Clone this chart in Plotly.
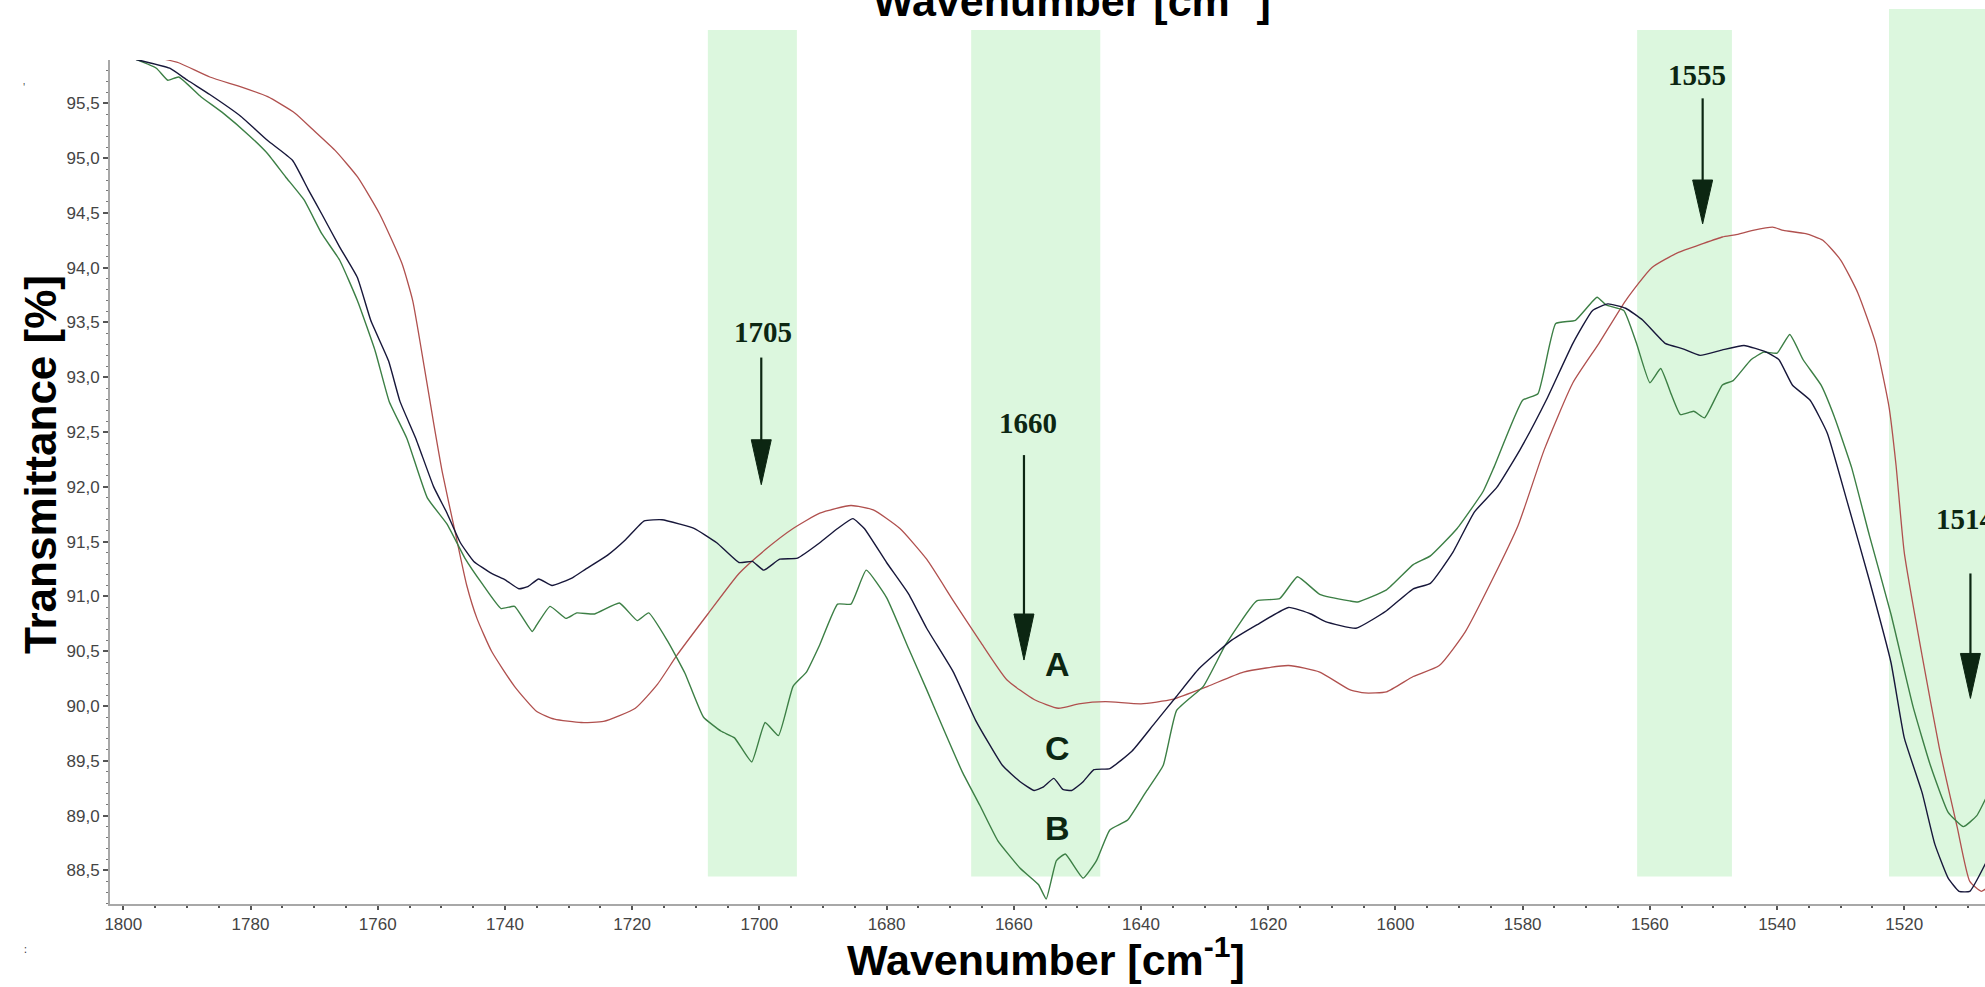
import plotly.graph_objects as go

# FTIR transmittance spectra, amide region (wavenumber in cm-1, transmittance in %)
wn_a = [1793.4, 1791.3, 1786.4, 1781.5, 1777.3, 1773.0, 1770.2, 1766.7, 1763.2, 1759.7,
        1756.2, 1754.5, 1752.7, 1751.2, 1749.8, 1747.8, 1746.0, 1744.4, 1742.1, 1738.5,
        1735.0, 1732.2, 1728.0, 1724.5, 1719.5, 1716.0, 1713.0, 1708.1, 1703.2, 1699.0,
        1694.7, 1690.5, 1685.6, 1682.1, 1677.9, 1673.7, 1669.5, 1665.3, 1661.1, 1656.8,
        1653.0, 1649.8, 1645.6, 1640.0, 1635.1, 1629.5, 1623.9, 1616.8, 1611.9, 1607.2,
        1604.8, 1601.4, 1597.2, 1593.1, 1589.0, 1584.8, 1580.7, 1576.6, 1572.1, 1568.0,
        1563.8, 1559.7, 1555.5, 1552.1, 1548.6, 1546.6, 1543.8, 1540.7, 1539.0, 1535.5,
        1532.8, 1530.0, 1527.3, 1524.5, 1522.4, 1521.3, 1520.0, 1517.2, 1514.5, 1511.7,
        1509.7, 1507.9, 1507.0]
t_a = [95.90, 95.87, 95.74, 95.65, 95.56, 95.41, 95.26, 95.07, 94.83, 94.49,
       94.04, 93.70, 93.10, 92.58, 92.12, 91.58, 91.10, 90.80, 90.50, 90.18,
       89.95, 89.88, 89.85, 89.86, 89.98, 90.20, 90.46, 90.84, 91.21, 91.43,
       91.62, 91.76, 91.83, 91.79, 91.62, 91.34, 90.96, 90.59, 90.24, 90.06,
       89.98, 90.02, 90.04, 90.02, 90.06, 90.18, 90.31, 90.37, 90.31, 90.15,
       90.12, 90.13, 90.27, 90.37, 90.68, 91.15, 91.65, 92.34, 92.95, 93.31,
       93.70, 94.00, 94.14, 94.21, 94.28, 94.30, 94.34, 94.37, 94.34, 94.31,
       94.25, 94.07, 93.77, 93.31, 92.73, 92.20, 91.40, 90.46, 89.62, 88.90,
       88.40, 88.31, 88.34]

wn_b = [1798.0, 1794.8, 1793.0, 1791.3, 1787.8, 1784.3, 1780.1, 1777.3, 1774.5, 1771.6,
        1768.8, 1766.0, 1763.2, 1760.4, 1758.2, 1755.4, 1752.2, 1749.1, 1746.3, 1743.5,
        1740.6, 1738.5, 1735.7, 1735.0, 1732.9, 1730.4, 1728.7, 1725.9, 1722.0, 1719.2,
        1717.4, 1714.4, 1711.7, 1708.8, 1706.0, 1703.9, 1701.2, 1699.1, 1697.0, 1694.7,
        1692.6, 1690.5, 1687.7, 1685.6, 1683.2, 1680.0, 1676.5, 1673.7, 1670.9, 1668.1,
        1665.3, 1662.5, 1659.0, 1656.1, 1654.9, 1653.3, 1651.9, 1649.1, 1647.0, 1644.9,
        1642.1, 1639.3, 1636.5, 1634.4, 1630.2, 1626.7, 1621.8, 1618.2, 1615.4, 1611.9,
        1607.2, 1605.9, 1601.4, 1597.2, 1594.5, 1590.3, 1586.2, 1584.5, 1580.0, 1577.6,
        1574.8, 1571.7, 1568.3, 1566.9, 1564.1, 1562.1, 1560.0, 1558.3, 1556.6, 1555.2,
        1553.1, 1551.4, 1548.6, 1546.9, 1544.1, 1542.1, 1540.0, 1538.0, 1535.9, 1533.1,
        1531.0, 1528.3, 1525.5, 1522.1, 1518.6, 1515.9, 1513.1, 1510.7, 1508.6, 1507.0]
t_b = [95.90, 95.82, 95.71, 95.74, 95.56, 95.41, 95.20, 95.04, 94.83, 94.62,
       94.31, 94.07, 93.70, 93.24, 92.78, 92.44, 91.90, 91.66, 91.35, 91.11,
       90.89, 90.91, 90.68, 90.74, 90.91, 90.80, 90.85, 90.84, 90.94, 90.78,
       90.85, 90.59, 90.30, 89.90, 89.77, 89.71, 89.49, 89.85, 89.73, 90.18,
       90.31, 90.56, 90.93, 90.93, 91.24, 90.99, 90.52, 90.15, 89.77, 89.40,
       89.09, 88.77, 88.52, 88.37, 88.24, 88.59, 88.65, 88.43, 88.59, 88.87,
       88.96, 89.21, 89.46, 89.96, 90.18, 90.56, 90.96, 90.98, 91.18, 91.02,
       90.96, 90.95, 91.06, 91.29, 91.37, 91.62, 91.96, 92.18, 92.79, 92.85,
       93.49, 93.52, 93.73, 93.66, 93.61, 93.31, 92.95, 93.08, 92.84, 92.66,
       92.69, 92.63, 92.93, 92.97, 93.16, 93.23, 93.22, 93.39, 93.16, 92.93,
       92.64, 92.18, 91.56, 90.84, 89.99, 89.46, 89.03, 88.90, 89.00, 89.18]

wn_c = [1798.0, 1792.7, 1789.9, 1786.4, 1781.5, 1777.3, 1773.4, 1770.9, 1768.8, 1766.0,
        1763.2, 1761.1, 1758.3, 1756.5, 1754.0, 1751.2, 1749.1, 1747.0, 1744.9, 1742.1,
        1739.9, 1737.8, 1736.4, 1734.7, 1732.6, 1729.4, 1727.3, 1723.8, 1721.0, 1718.1,
        1715.3, 1712.5, 1710.2, 1706.7, 1703.2, 1701.1, 1699.3, 1696.8, 1694.0, 1690.5,
        1687.7, 1685.3, 1683.5, 1680.0, 1676.5, 1673.7, 1669.5, 1666.0, 1661.8, 1659.0,
        1656.8, 1655.4, 1653.7, 1652.3, 1650.9, 1649.1, 1647.4, 1644.9, 1641.4, 1637.9,
        1634.4, 1630.9, 1626.0, 1621.8, 1616.8, 1613.3, 1611.0, 1606.2, 1601.4, 1597.2,
        1594.5, 1591.0, 1587.6, 1584.0, 1580.4, 1576.3, 1572.1, 1569.0, 1566.6, 1563.8,
        1561.1, 1557.6, 1554.8, 1552.1, 1548.6, 1545.2, 1541.7, 1539.7, 1537.6, 1534.8,
        1532.1, 1529.0, 1525.5, 1522.1, 1520.0, 1517.2, 1515.2, 1513.1, 1511.4, 1509.7,
        1507.0]
t_c = [95.90, 95.82, 95.71, 95.58, 95.38, 95.16, 94.98, 94.71, 94.49, 94.19,
       93.91, 93.52, 93.15, 92.78, 92.44, 92.00, 91.76, 91.49, 91.32, 91.21,
       91.15, 91.07, 91.09, 91.16, 91.10, 91.17, 91.25, 91.38, 91.52, 91.69,
       91.70, 91.66, 91.62, 91.49, 91.31, 91.32, 91.24, 91.34, 91.35, 91.49,
       91.62, 91.71, 91.62, 91.31, 91.02, 90.71, 90.31, 89.87, 89.46, 89.31,
       89.23, 89.26, 89.34, 89.24, 89.23, 89.31, 89.42, 89.43, 89.59, 89.84,
       90.09, 90.34, 90.59, 90.74, 90.90, 90.84, 90.77, 90.71, 90.87, 91.07,
       91.12, 91.40, 91.77, 92.00, 92.34, 92.79, 93.31, 93.61, 93.67, 93.63,
       93.52, 93.31, 93.26, 93.20, 93.25, 93.29, 93.23, 93.16, 92.93, 92.79,
       92.49, 91.87, 91.15, 90.40, 89.71, 89.21, 88.74, 88.43, 88.31, 88.31,
       88.59]

# Axis ticks
x_tickvals = [1800, 1780, 1760, 1740, 1720, 1700, 1680, 1660, 1640, 1620, 1600, 1580, 1560, 1540, 1520]
x_ticktext = [str(v) for v in x_tickvals]
y_tickvals = [88.5, 89.0, 89.5, 90.0, 90.5, 91.0, 91.5, 92.0, 92.5, 93.0, 93.5, 94.0, 94.5, 95.0, 95.5]
y_ticktext = ["88,5", "89,0", "89,5", "90,0", "90,5", "91,0", "91,5", "92,0", "92,5",
              "93,0", "93,5", "94,0", "94,5", "95,0", "95,5"]

# Highlighted bands (wavenumber spans)
band_lo = [1708.1, 1666.7, 1562.0, 1522.4]
band_hi = [1694.1, 1646.4, 1547.1, 1500.0]

# Marked peaks
peak_text = ["1705", "1660", "1555", "1514"]
peak_x = [1699.7, 1658.4, 1551.7, 1509.6]

RED = "#b0504e"
GREEN = "#3c7f45"
DARK = "#17173a"
INK = "#0c2612"

fig = go.Figure()
fig.add_trace(go.Scatter(x=wn_a, y=t_a, mode="lines", name="A",
                         line=dict(color=RED, width=1.3, shape="spline", smoothing=0.5)))
fig.add_trace(go.Scatter(x=wn_b, y=t_b, mode="lines", name="B",
                         line=dict(color=GREEN, width=1.4, shape="spline", smoothing=0.4)))
fig.add_trace(go.Scatter(x=wn_c, y=t_c, mode="lines", name="C",
                         line=dict(color=DARK, width=1.4, shape="spline", smoothing=0.4)))

shapes = []
band_top = [1.0355, 1.0355, 1.0355, 1.0603]
for lo, hi, top in zip(band_lo, band_hi, band_top):
    shapes.append(dict(type="rect", xref="x", yref="paper", x0=lo, x1=hi,
                       y0=0.0327, y1=top, fillcolor="#dcf7de", line=dict(width=0),
                       layer="below"))

# arrow geometry: shaft top, head start, tip (transmittance units)
arrow_geom = [(93.18, 92.43, 92.02), (92.29, 90.84, 90.42),
              (95.545, 94.80, 94.40), (91.21, 90.48, 90.07)]
half_w = 1.57
for xp, (top, hs, tip) in zip(peak_x, arrow_geom):
    shapes.append(dict(type="line", xref="x", yref="y", x0=xp, x1=xp, y0=top, y1=hs - 0.05,
                       line=dict(color=INK, width=2.2)))
    shapes.append(dict(type="path", xref="x", yref="y",
                       path=f"M {xp - half_w},{hs} L {xp + half_w},{hs} L {xp},{tip} Z",
                       fillcolor=INK, line=dict(color=INK, width=1)))

annotations = []
label_pos = [(1699.5, 93.41), (1657.7, 92.58), (1552.6, 95.76), (1510.4, 91.71)]
for txt, (lx, ly) in zip(peak_text, label_pos):
    annotations.append(dict(x=lx, y=ly, xref="x", yref="y", text=txt, showarrow=False,
                            xanchor="center", yanchor="middle",
                            font=dict(family="Liberation Serif, Times New Roman", size=29,
                                      color=INK, weight="bold")))

for txt, ly in zip(["A", "C", "B"], [90.38, 89.62, 88.89]):
    annotations.append(dict(x=1653.2, y=ly, xref="x", yref="y", text=txt, showarrow=False,
                            xanchor="center", yanchor="middle",
                            font=dict(family="Liberation Sans, Arial", size=34,
                                      color=INK, weight="bold")))

title_font = dict(family="Liberation Sans, Arial", size=43, color="#000000", weight="bold")
annotations.append(dict(x=(1046 - 110) / 1875, y=(904 - 957) / 844, xref="paper", yref="paper",
                        text="Wavenumber [cm<sup>-1</sup>]", showarrow=False,
                        xanchor="center", yanchor="middle", font=title_font))
annotations.append(dict(x=(1072 - 110) / 1875, y=(904 + 2) / 844, xref="paper", yref="paper",
                        text="Wavenumber [cm<sup>-1</sup>]", showarrow=False,
                        xanchor="center", yanchor="middle", font=title_font))
annotations.append(dict(x=(40 - 110) / 1875, y=(904 - 465) / 844, xref="paper", yref="paper",
                        text="Transmittance [%]", showarrow=False, textangle=-90,
                        xanchor="center", yanchor="middle",
                        font=dict(family="Liberation Sans, Arial", size=44, color="#000000",
                                  weight="bold")))
annotations.append(dict(x=(22 - 110) / 1875, y=(904 - 958) / 844, xref="paper", yref="paper",
                        text=":", showarrow=False, font=dict(size=11, color="#333")))
annotations.append(dict(x=(21 - 110) / 1875, y=(904 - 78) / 844, xref="paper", yref="paper",
                        text="'", showarrow=False, font=dict(size=10, color="#333")))

tick_font = dict(family="Liberation Sans, Arial", size=17, color="#444444")

fig.update_layout(
    width=1985, height=987,
    margin=dict(l=110, r=0, t=60, b=83),
    paper_bgcolor="white", plot_bgcolor="white",
    showlegend=False,
    shapes=shapes,
    annotations=annotations,
    xaxis=dict(range=[1802.09, 1507.31], showgrid=False, zeroline=False,
               showline=True, linecolor="#a8a8a8", linewidth=2,
               ticks="outside", ticklen=4, tickwidth=1.5, tickcolor="#555",
               tickmode="array", tickvals=x_tickvals, ticktext=x_ticktext,
               tickfont=tick_font,
               minor=dict(ticks="outside", ticklen=2, tickwidth=1.5, tickcolor="#555",
                          tick0=1800, dtick=5)),
    yaxis=dict(range=[88.194, 95.895], showgrid=False, zeroline=False,
               showline=True, linecolor="#a8a8a8", linewidth=2,
               ticks="outside", ticklen=5, tickwidth=1.5, tickcolor="#555",
               tickmode="array", tickvals=y_tickvals, ticktext=y_ticktext,
               tickfont=tick_font,
               minor=dict(ticks="outside", ticklen=2, tickwidth=1.2, tickcolor="#777",
                          tick0=88.0, dtick=0.1)),
)

fig.write_html("out.html")
